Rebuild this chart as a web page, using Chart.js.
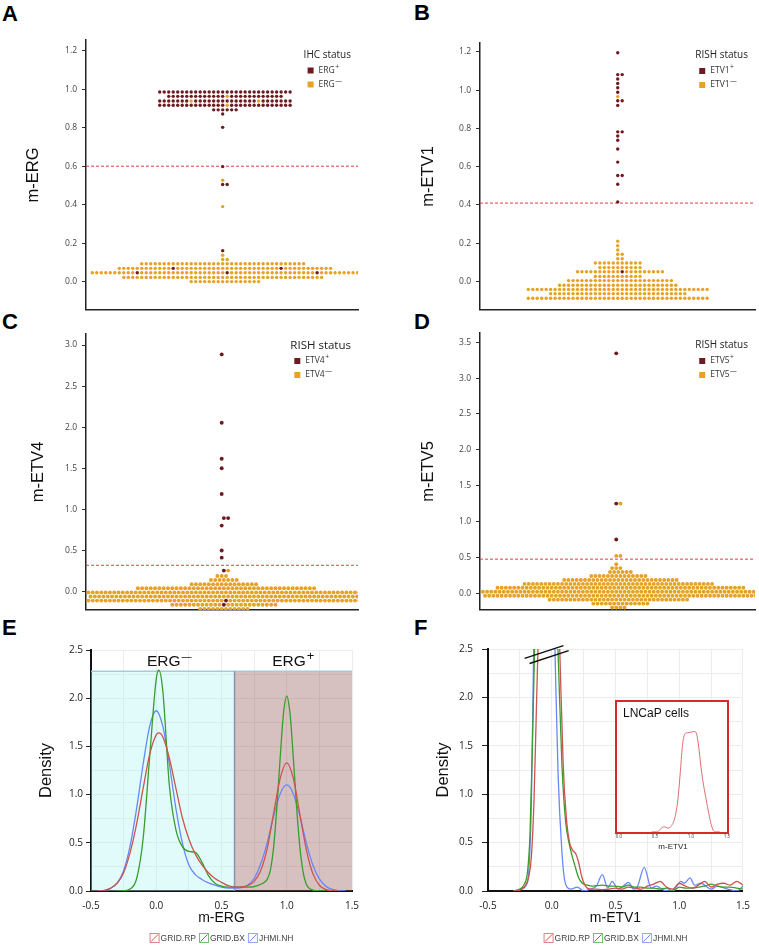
<!DOCTYPE html>
<html><head><meta charset="utf-8"><title>m-ERG / m-ETV beeswarm and density plots</title>
<script src="https://cdn.jsdelivr.net/npm/chart.js@4.4.1/dist/chart.umd.min.js"></script>
<style>
html,body{margin:0;padding:0;background:#fff}
body{position:relative;width:759px;height:945px;overflow:hidden}
canvas{position:absolute}
.lab{position:absolute;font:bold 22px 'Liberation Sans',Arial,sans-serif;line-height:22px;color:#000}
</style></head><body>
<div class="lab" style="left:2px;top:3px">A</div>
<div class="lab" style="left:414px;top:2px">B</div>
<div class="lab" style="left:2px;top:311px">C</div>
<div class="lab" style="left:414px;top:311px">D</div>
<div class="lab" style="left:2px;top:617px">E</div>
<div class="lab" style="left:414px;top:617px">F</div>
<canvas id="cA" width="380" height="320" style="left:0;top:0"></canvas>
<canvas id="cB" width="379" height="320" style="left:380px;top:0"></canvas>
<canvas id="cC" width="380" height="300" style="left:0;top:320px"></canvas>
<canvas id="cD" width="379" height="300" style="left:380px;top:320px"></canvas>
<canvas id="cE" width="380" height="330" style="left:0;top:615px"></canvas>
<canvas id="cF" width="379" height="330" style="left:380px;top:615px"></canvas>
<canvas id="cI" width="124" height="156" style="left:610px;top:698px"></canvas>
<script>
Chart.defaults.font.family = "'Open Sans', 'DejaVu Sans', sans-serif";
const MAROON = '#6d1b21', ORANGE = '#e7a126', THRESH = '#e23b3b';

// ---------- Panel A : m-ERG (IHC status) ----------
const aLevels    = [0.0, 0.022, 0.046, 0.069, 0.093, 0.115, 0.137, 0.161, 0.39, 0.505, 0.527, 0.598, 0.802, 0.871, 0.893, 0.917, 0.939, 0.963, 0.986];
const aPosCounts = [0,   0,     3,     2,     0,     0,     0,     1,     0,    2,     0,     1,     1,     1,     6,     29,    28,    25,    30];
const aNegCounts = [16,  45,    57,    46,    37,    2,     1,     0,     1,    0,     1,     0,     0,     0,     0,     1,     2,     1,     0];
const aYTicks = [0, 0.2, 0.4, 0.6, 0.8, 1.0, 1.2];
const aThreshold = 0.6;

// ---------- Panel B : m-ETV1 (RISH status) ----------
const bLevels    = [-0.087,-0.063,-0.041,-0.019,0.005,0.027,0.051,0.073,0.097,0.119,0.143,0.165,0.187,0.211,0.416,0.508,0.554,0.624,0.692,0.738,0.760,0.782,0.920,0.944,0.966,0.989,1.012,1.035,1.058,1.081,1.195];
const bPosCounts = [0,0,0,0,0,0,1,0,0,0,0,0,0,0,1,1,2,1,1,1,1,2,1,2,0,1,1,1,1,2,1];
const bNegCounts = [41,31,41,27,24,11,19,10,11,2,2,1,1,1,0,0,0,0,0,0,0,0,0,0,1,0,0,0,0,0,0];
const bYTicks = [0, 0.2, 0.4, 0.6, 0.8, 1.0, 1.2];
const bThreshold = 0.41;

// ---------- Panel C : m-ETV4 (RISH status) ----------
const cLevels    = [-0.21,-0.16,-0.11,-0.06,-0.01,0.04,0.09,0.14,0.19,0.255,0.413,0.499,0.803,0.894,1.188,1.50,1.617,2.055,2.886];
const cPosCounts = [0,1,1,0,0,0,0,0,0,1,1,1,1,2,1,1,1,1,1];
const cNegCounts = [12,24,63,64,64,42,16,7,3,1,0,0,0,0,0,0,0,0,0];
const cYTicks = [0, 0.5, 1.0, 1.5, 2.0, 2.5, 3.0];
const cThreshold = 0.32;

// ---------- Panel D : m-ETV5 (RISH status) ----------
const dLevels    = [-0.2,-0.145,-0.09,-0.035,0.02,0.075,0.13,0.185,0.24,0.295,0.35,0.405,0.52,0.749,1.25,3.346];
const dPosCounts = [0,0,0,0,0,0,0,0,0,0,0,0,0,1,1,1];
const dNegCounts = [4,14,34,66,66,60,46,28,14,6,3,1,2,0,1,0];
const dYTicks = [0, 0.5, 1.0, 1.5, 2.0, 2.5, 3.0, 3.5];
const dThreshold = 0.475;

// ---------- Panels E / F : density curves ----------
const SERIES = ['GRID.RP', 'GRID.BX', 'JHMI.NH'];
const SERIES_COLORS = ['rgb(204,84,78)', 'rgb(56,158,44)', 'rgb(104,136,248)'];
const SERIES_LIGHT = ['rgba(214,90,90,0.75)', 'rgba(70,170,60,0.75)', 'rgba(110,140,250,0.75)'];
const densXTicks = [-0.5, 0, 0.5, 1.0, 1.5];
const densYTicks = [0, 0.5, 1.0, 1.5, 2.0, 2.5];

const eRpX = [-0.45,-0.4,-0.35,-0.3,-0.25,-0.2,-0.15,-0.1,-0.05,0,0.02,0.05,0.1,0.15,0.2,0.25,0.3,0.35,0.4,0.45,0.5,0.55,0.6,0.65,0.7,0.75,0.8,0.85,0.9,0.95,1,1.05,1.1,1.15,1.2,1.25,1.3,1.35,1.4];
const eRpY = [0,0.004,0.03,0.08,0.19,0.4,0.7,1.07,1.42,1.62,1.64,1.6,1.38,1.07,0.76,0.54,0.38,0.27,0.19,0.13,0.09,0.055,0.04,0.042,0.055,0.1,0.21,0.44,0.81,1.17,1.33,1.17,0.8,0.43,0.18,0.06,0.015,0.003,0];
const eBxX = [-0.3,-0.25,-0.2,-0.15,-0.1,-0.05,0,0.02,0.05,0.1,0.15,0.2,0.25,0.3,0.35,0.4,0.45,0.5,0.55,0.6,0.65,0.7,0.75,0.8,0.85,0.875,0.9,0.925,0.95,0.975,1,1.025,1.05,1.075,1.1,1.125,1.15,1.2,1.25,1.3];
const eBxY = [0,0.003,0.02,0.13,0.55,1.4,2.2,2.29,2.08,1.1,0.64,0.46,0.41,0.4,0.3,0.16,0.08,0.05,0.04,0.04,0.04,0.04,0.045,0.07,0.12,0.22,0.46,0.88,1.39,1.84,2.02,1.84,1.39,0.88,0.46,0.2,0.07,0.01,0.002,0];
const eNhX = [-0.45,-0.4,-0.35,-0.3,-0.25,-0.2,-0.15,-0.1,-0.05,0,0.05,0.1,0.15,0.2,0.25,0.3,0.35,0.4,0.45,0.5,0.55,0.6,0.65,0.7,0.75,0.8,0.85,0.9,0.95,1,1.05,1.1,1.15,1.2,1.25,1.3,1.35,1.4,1.45];
const eNhY = [0,0.007,0.027,0.082,0.21,0.47,0.86,1.32,1.71,1.87,1.71,1.32,0.86,0.5,0.27,0.17,0.12,0.085,0.06,0.04,0.03,0.03,0.035,0.06,0.13,0.28,0.5,0.78,1.01,1.1,1.01,0.78,0.5,0.27,0.125,0.048,0.016,0.004,0];
const eNegRegion = [-0.5, 0.6], ePosRegion = [0.6, 1.5], eRegionTop = 2.28;

const fRpX = [-0.3,-0.25,-0.21,-0.18,-0.16,-0.14,-0.12,-0.1,-0.06,-0.02,0.02,0.045,0.065,0.09,0.115,0.14,0.165,0.19,0.21,0.235,0.26,0.3,0.35,0.4,0.45,0.5,0.55,0.6,0.65,0.7,0.75,0.8,0.85,0.9,0.95,1.0,1.05,1.1,1.15,1.2,1.25,1.3,1.35,1.4,1.45,1.5];
const fRpY = [0,0.01,0.05,0.15,0.35,0.9,1.9,2.9,4.6,5.2,4.4,3.3,2.4,1.3,0.75,0.5,0.42,0.38,0.3,0.15,0.06,0.02,0.02,0.015,0.02,0.03,0.02,0.04,0.03,0.02,0.05,0.07,0.1,0.04,0.02,0.08,0.05,0.03,0.06,0.1,0.04,0.07,0.08,0.06,0.1,0.06];
const fBxX = [-0.3,-0.25,-0.22,-0.19,-0.17,-0.15,-0.133,-0.1,-0.05,0,0.03,0.05,0.08,0.11,0.135,0.16,0.18,0.21,0.24,0.28,0.32,0.4,0.45,0.5,0.55,0.6,0.65,0.7,0.75,0.8,0.85,0.9,0.95,1.0,1.05,1.1,1.15,1.2,1.25,1.3,1.35,1.4,1.45,1.5];
const fBxY = [0,0.02,0.06,0.2,0.6,1.6,2.6,4.2,5,4.6,3.2,2.45,1.3,0.7,0.5,0.36,0.27,0.14,0.08,0.06,0.05,0.06,0.05,0.05,0.04,0.06,0.04,0.04,0.03,0.03,0.02,0.03,0.0,0.04,0.03,0.03,0.04,0.05,0.07,0.05,0.04,0.04,0.03,0.02];
const fNhX = [-0.3,-0.24,-0.2,-0.18,-0.16,-0.145,-0.13,-0.08,-0.03,0.01,0.025,0.05,0.08,0.1,0.12,0.15,0.2,0.25,0.3,0.35,0.397,0.44,0.474,0.52,0.55,0.603,0.64,0.67,0.726,0.78,0.82,0.88,0.93,0.97,1.013,1.04,1.085,1.12,1.17,1.25,1.3,1.38,1.45,1.5];
const fNhY = [0,0.02,0.06,0.2,0.9,2.2,3.5,5,4.5,3.3,2.5,1.2,0.4,0.12,0.04,0.02,0.04,0.0,0.02,0.05,0.17,0.03,0.1,0.02,0.04,0.09,0.02,0.04,0.245,0.03,0.05,0.01,0.0,0.03,0.1,0.08,0.135,0.06,0.08,0.02,0.05,0.02,0.0,0.05];

// inset (LNCaP cells)
const lnX = [0.45,0.5,0.55,0.6,0.63,0.68,0.73,0.78,0.82,0.85,0.88,0.91,0.95,1.0,1.05,1.08,1.1,1.15,1.22,1.29,1.33,1.4];
const lnY = [0,0,0.01,0.07,0.08,0.06,0.1,0.25,0.55,0.96,1.4,1.6,1.63,1.64,1.65,1.6,1.46,0.96,0.47,0.08,0,0];
const lnXTicks = [0, 0.5, 1.0, 1.5];

// ---------- helpers ----------
function slotOffsets(n){
  const a=[];
  for(let j=0;j<n;j++) a.push(j===0?0:(j%2?(j+1)/2:-j/2));
  return a.sort((p,q)=>p-q);
}
function buildSwarm(levels,posCounts,negCounts,brick){
  const pos=[],neg=[];
  levels.forEach((y,k)=>{
    const p=posCounts[k],q=negCounts[k],n=p+q;
    if(!n) return;
    const slots=slotOffsets(n);
    const shift=(brick&&n>1&&k%2)?0.5:0;
    const minorIsNeg=p>=q, m=minorIsNeg?q:p;
    const ranks=new Set();
    for(let j=0;j<m;j++) ranks.add(Math.floor((j+0.5)*n/m));
    slots.forEach((s,r)=>{
      const minor=ranks.has(r);
      const isNeg=minor?minorIsNeg:!minorIsNeg;
      (isNeg?neg:pos).push({x:s+shift,y});
    });
  });
  return {pos,neg};
}
function statusLegend(o){
  return {id:'statusLegend',afterDraw(chart){
    const ctx=chart.ctx,a=chart.chartArea;
    ctx.save();
    ctx.textBaseline='middle';ctx.textAlign='left';
    ctx.font=o.titleSize+"px 'Open Sans'";ctx.fillStyle='#222';
    const tw=ctx.measureText(o.title).width;
    const tx=a.right-7-tw;
    ctx.fillText(o.title,tx,a.top+12.5+o.dy);
    const x0=tx+4;
    [[MAROON,'+'],[ORANGE,'\u2014']].forEach(([c,sup],i)=>{
      const cy=a.top+28+o.dy+14*i;
      ctx.fillStyle=c;ctx.fillRect(x0,cy-3,6,6);
      ctx.fillStyle='#333';
      ctx.font=o.itemSize+"px 'Open Sans'";
      ctx.fillText(o.gene,x0+11,cy);
      const w=ctx.measureText(o.gene).width;
      ctx.font=(o.itemSize*0.8)+"px 'Open Sans'";
      ctx.fillText(sup,x0+11+w+0.5,cy-3.5);
    });
    ctx.restore();
  }};
}
function swarmChart(id,s){
  const sw=buildSwarm(s.levels,s.pos,s.neg,s.brick);
  return new Chart(document.getElementById(id),{
    type:'scatter',
    data:{datasets:[
      {label:s.gene+'+',data:sw.pos,pointBackgroundColor:MAROON,pointBorderColor:MAROON,pointBorderWidth:0,pointRadius:s.r,order:0},
      {label:s.gene+'-',data:sw.neg,pointBackgroundColor:ORANGE,pointBorderColor:ORANGE,pointBorderWidth:0,pointRadius:s.r,order:1},
      {type:'line',label:'threshold',data:[{x:s.xmin,y:s.thr},{x:s.xmax,y:s.thr}],borderColor:THRESH,borderWidth:1,borderDash:[3,2],pointRadius:0,order:2}
    ]},
    options:{responsive:false,devicePixelRatio:1,animation:false,events:[],
      layout:{padding:{top:s.pt,right:s.pr,bottom:s.pb,left:0}},
      plugins:{legend:{display:false},tooltip:{enabled:false}},
      scales:{
        x:{type:'linear',min:s.xmin,max:s.xmax,ticks:{display:false},grid:{display:false},
           border:{display:true,color:'#222',width:1.5},afterFit:sc=>{sc.height=4;}},
        y:{type:'linear',position:'left',min:s.ymin,max:s.ymax,
           afterBuildTicks:sc=>{sc.ticks=s.yTicks.map(v=>({value:v}));},
           afterFit:sc=>{sc.width=s.yw;},
           ticks:{autoSkip:false,callback:v=>Number(v).toFixed(1),font:{size:8.5},color:'#444',padding:5},
           grid:{drawOnChartArea:false,drawTicks:true,tickLength:4,color:'#333',lineWidth:1},
           border:{display:true,color:'#222',width:1.5},
           title:{display:true,text:s.yTitle,font:{family:"'Liberation Sans', Arial, sans-serif",size:16.5},color:'#111',padding:{top:s.titlePad,bottom:0}}}
      }},
    plugins:[statusLegend(s.legend)]
  });
}
const isMajor=(v,majors)=>majors.some(m=>Math.abs(m-v)<1e-6);
const withMinor=majors=>{const out=[];majors.forEach((v,i)=>{out.push(v);if(i<majors.length-1)out.push((v+majors[i+1])/2);});return out;};
function densityLegend(){
  return {id:'densityLegend',afterDraw(chart){
    const ctx=chart.ctx,a=chart.chartArea;
    ctx.save();
    ctx.font="8.5px 'Liberation Sans', Arial, sans-serif";
    const box=10,gap=1,sep=3;
    const widths=SERIES.map(l=>box+gap+ctx.measureText(l).width);
    const total=widths.reduce((p,w)=>p+w,0)+sep*(SERIES.length-1);
    let x=(a.left+a.right)/2-total/2;
    const cy=chart.height-7;
    SERIES.forEach((l,i)=>{
      ctx.lineWidth=1;ctx.strokeStyle=SERIES_LIGHT[i];
      ctx.strokeRect(x+0.5,cy-box/2+0.5,box-1,box-1);
      ctx.strokeStyle=SERIES_COLORS[i];ctx.beginPath();
      ctx.moveTo(x+1.5,cy+box/2-1.5);ctx.lineTo(x+box-1.5,cy-box/2+1.5);ctx.stroke();
      ctx.fillStyle='#444';ctx.textBaseline='middle';ctx.textAlign='left';
      ctx.fillText(l,x+box+gap,cy+0.5);
      x+=widths[i]+sep;
    });
    ctx.restore();
  }};
}
function densityChart(id,o){
  const series=[[o.rx,o.ry],[o.bx,o.by],[o.nx,o.ny]];
  const datasets=series.map(([xs,ys],i)=>({type:'line',label:SERIES[i],data:xs.map((x,j)=>({x,y:ys[j]})),
    borderColor:SERIES_COLORS[i],borderWidth:1.3,pointRadius:0,cubicInterpolationMode:'monotone',fill:false,order:0}));
  (o.extra||[]).forEach(d=>datasets.push(d));
  return new Chart(document.getElementById(id),{
    type:'line',data:{datasets},
    options:{responsive:false,devicePixelRatio:1,animation:false,events:[],
      layout:{padding:{top:o.pt,right:o.pr,bottom:0,left:0}},
      plugins:{legend:{display:false},tooltip:{enabled:false}},
      scales:{
        x:{type:'linear',min:densXTicks[0],max:densXTicks[densXTicks.length-1],
           afterBuildTicks:sc=>{sc.ticks=withMinor(densXTicks).map(v=>({value:v}));},
           afterFit:sc=>{sc.height=54;},
           ticks:{autoSkip:false,maxRotation:0,callback:v=>isMajor(v,densXTicks)?Number(v).toFixed(1):'',font:{size:10},color:'#222',padding:9},
           grid:{color:'#ececec',drawTicks:false,lineWidth:1},
           border:{color:'#111',width:2},
           title:{display:true,text:o.xTitle,font:{family:"'Liberation Sans', Arial, sans-serif",size:14},color:'#111',padding:{top:0,bottom:18}}},
        y:{type:'linear',min:densYTicks[0],max:densYTicks[densYTicks.length-1],
           afterBuildTicks:sc=>{sc.ticks=withMinor(densYTicks).map(v=>({value:v}));},
           afterFit:sc=>{sc.width=o.yw;},
           ticks:{autoSkip:false,callback:v=>isMajor(v,densYTicks)?Number(v).toFixed(1):'',font:{size:10},color:'#222',padding:o.ypad},
           grid:{color:'#ececec',drawTicks:true,tickLength:o.tl,lineWidth:1,
                 tickColor:c=>(c.tick&&isMajor(c.tick.value,densYTicks))?'#222':'rgba(0,0,0,0)',tickWidth:1},
           border:{color:'#111',width:2},
           title:{display:true,text:'Density',font:{family:"'Liberation Sans', Arial, sans-serif",size:16.5},color:'#111',padding:{top:o.titlePad,bottom:0}}}
      }},
    plugins:[densityLegend()].concat(o.plugins||[])
  });
}

// ---------- build A-D ----------
swarmChart('cA',{levels:aLevels,pos:aPosCounts,neg:aNegCounts,brick:false,r:1.7,xmin:-30.4,xmax:30.1,ymin:-0.147,ymax:1.256,
  yTicks:aYTicks,thr:aThreshold,yTitle:'m-ERG',yw:86,titlePad:24,pt:40,pr:22,pb:0,
  legend:{title:'IHC status',gene:'ERG',titleSize:10,itemSize:8.5,dy:2.5}});
swarmChart('cB',{levels:bLevels,pos:bPosCounts,neg:bNegCounts,brick:false,r:1.7,xmin:-30.8,xmax:30.7,ymin:-0.148,ymax:1.246,
  yTicks:bYTicks,thr:bThreshold,yTitle:'m-ETV1',yw:100,titlePad:39,pt:43,pr:2,pb:0,
  legend:{title:'RISH status',gene:'ETV1',titleSize:10,itemSize:8.5,dy:0}});
swarmChart('cC',{levels:cLevels,pos:cPosCounts,neg:cNegCounts,brick:true,r:1.95,xmin:-31.56,xmax:31.7,ymin:-0.223,ymax:3.134,
  yTicks:cYTicks,thr:cThreshold,yTitle:'m-ETV4',yw:86,titlePad:29,pt:14,pr:22,pb:6,
  legend:{title:'RISH status',gene:'ETV4',titleSize:11.5,itemSize:8.5,dy:-1}});
swarmChart('cD',{levels:dLevels,pos:dPosCounts,neg:dNegCounts,brick:true,r:1.95,xmin:-32.7,xmax:33.3,ymin:-0.233,ymax:3.63,
  yTicks:dYTicks,thr:dThreshold,yTitle:'m-ETV5',yw:100,titlePad:39,pt:13,pr:2,pb:6,
  legend:{title:'RISH status',gene:'ETV5',titleSize:10,itemSize:8.5,dy:0}});

// ---------- E ----------
const eRegionLabels = {id:'regionLabels',afterDatasetsDraw(chart){
  const {ctx,scales:{x,y}}=chart;
  ctx.save();ctx.fillStyle='#111';ctx.textBaseline='alphabetic';ctx.textAlign='left';
  [[ 0.1,'ERG','\u2014',10],[1.05,'ERG','+',13]].forEach(([vx,t,sup,ss])=>{
    const px=x.getPixelForValue(vx),py=y.getPixelForValue(2.33);
    ctx.font="15.5px 'Liberation Sans', Arial, sans-serif";const w=ctx.measureText(t).width;
    ctx.font=ss+"px 'Liberation Sans', Arial, sans-serif";const sw=ctx.measureText(sup).width;
    const x0=px-(w+sw+1)/2;
    ctx.font="15.5px 'Liberation Sans', Arial, sans-serif";ctx.fillText(t,x0,py);
    ctx.font=ss+"px 'Liberation Sans', Arial, sans-serif";ctx.fillText(sup,x0+w+1,py-6);
  });
  ctx.restore();
}};
densityChart('cE',{rx:eRpX,ry:eRpY,bx:eBxX,by:eBxY,nx:eNhX,ny:eNhY,xTitle:'m-ERG',yw:91,ypad:3,tl:5,titlePad:37,pt:35,pr:28,
  extra:[
    {type:'line',label:'ERG- region',data:[{x:eNegRegion[0],y:eRegionTop},{x:eNegRegion[1],y:eRegionTop}],fill:'origin',
     backgroundColor:'rgba(175,245,245,0.38)',borderColor:'rgba(160,200,218,0.95)',borderWidth:1.5,pointRadius:0,order:10},
    {type:'line',label:'ERG+ region',data:[{x:ePosRegion[0],y:eRegionTop},{x:ePosRegion[1],y:eRegionTop}],fill:'origin',
     backgroundColor:'rgba(150,90,90,0.38)',borderColor:'rgba(160,200,218,0.95)',borderWidth:1.5,pointRadius:0,order:10},
    {type:'line',label:'cutoff',data:[{x:ePosRegion[0],y:0},{x:ePosRegion[0],y:eRegionTop}],borderColor:'#8595ad',borderWidth:1.5,pointRadius:0,order:5}
  ],
  plugins:[eRegionLabels]});

// ---------- F ----------
const fBreak = [[-0.213,2.403,0.092,2.535],[-0.174,2.351,0.133,2.483]];
const fBreakPlugin = {id:'breakMarks',afterDatasetsDraw(chart){
  const {ctx,scales:{x,y}}=chart;
  ctx.save();ctx.strokeStyle='#111';ctx.lineWidth=1.5;
  fBreak.forEach(([x1,y1,x2,y2])=>{ctx.beginPath();ctx.moveTo(x.getPixelForValue(x1),y.getPixelForValue(y1));ctx.lineTo(x.getPixelForValue(x2),y.getPixelForValue(y2));ctx.stroke();});
  ctx.restore();
}};
densityChart('cF',{rx:fRpX,ry:fRpY,bx:fBxX,by:fBxY,nx:fNhX,ny:fNhY,xTitle:'m-ETV1',yw:108,ypad:9,tl:6,titlePad:53.4,pt:34,pr:11,
  plugins:[fBreakPlugin]});

// ---------- inset ----------
const insetBox = {id:'insetBox',
  beforeDraw(chart){const {ctx,chartArea:a}=chart;ctx.save();ctx.fillStyle='#fff';ctx.fillRect(a.left-3,a.top-2,a.right-a.left+4,a.bottom-a.top+3.3);ctx.restore();},
  afterDraw(chart){const {ctx,chartArea:a}=chart;ctx.save();ctx.strokeStyle='#d42b2b';ctx.lineWidth=2;
    ctx.strokeRect(a.left-3,a.top-2,a.right-a.left+4,a.bottom-a.top+3.3);
    ctx.fillStyle='#111';ctx.font="12px 'Liberation Sans', Arial, sans-serif";ctx.textBaseline='middle';ctx.textAlign='left';
    ctx.fillText('LNCaP cells',a.left+4,a.top+10.5);ctx.restore();}
};
new Chart(document.getElementById('cI'),{
  type:'line',
  data:{datasets:[{label:'LNCaP',data:lnX.map((x,i)=>({x,y:lnY[i]})),borderColor:'rgb(222,110,110)',borderWidth:1,pointRadius:0,cubicInterpolationMode:'monotone',fill:false}]},
  options:{responsive:false,devicePixelRatio:1,animation:false,events:[],
    layout:{padding:{left:9,right:7,top:5,bottom:0}},
    plugins:{legend:{display:false},tooltip:{enabled:false}},
    scales:{
      x:{type:'linear',min:0,max:1.5,afterBuildTicks:sc=>{sc.ticks=lnXTicks.map(v=>({value:v}));},afterFit:sc=>{sc.height=22.3;},
         ticks:{autoSkip:false,maxRotation:0,callback:v=>Number(v).toFixed(1),font:{size:4.5},color:'#333',padding:2},
         grid:{display:false,drawTicks:false},border:{display:false},
         title:{display:true,text:'m-ETV1',font:{family:"'Liberation Sans', Arial, sans-serif",size:8},color:'#222',padding:{top:0,bottom:2.5}}},
      y:{display:false,min:0,max:2.12}
    }},
  plugins:[insetBox]
});
</script>
</body></html>
